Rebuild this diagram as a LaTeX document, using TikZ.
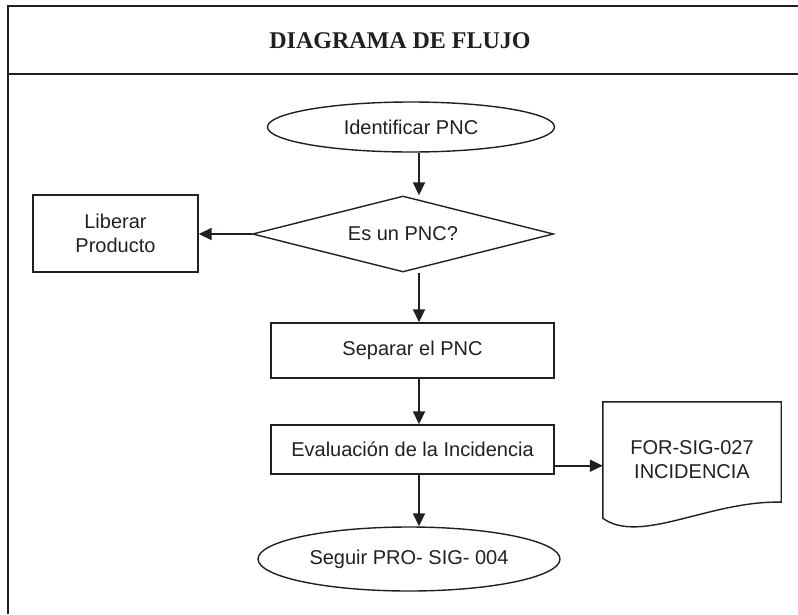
\documentclass[tikz,border=0pt]{standalone}
\usepackage{fontspec}
\setmainfont{Liberation Sans}
\newfontfamily\titlefont{Liberation Serif}
\usetikzlibrary{positioning,arrows.meta,calc,shapes.geometric}
\definecolor{linea}{HTML}{231F20}
\tikzset{
  caja/.style={draw=linea, line width=1.4pt, rectangle, align=center, text=linea, inner sep=2pt, font=\fontsize{20}{24}\selectfont},
  ovalo/.style={caja, ellipse},
  rombo/.style={caja, diamond, aspect=3.96, inner sep=0pt},
  flecha/.style={draw=linea, line width=1.8pt, -{Triangle[length=13pt,width=12pt]}}
}

\begin{document}
\begin{tikzpicture}[x=1pt,y=-1pt]
\useasboundingbox (0,0) rectangle (798,614);
\draw[linea, line width=2.6pt] (8,614) -- (8,6) -- (798,6);
\draw[linea, line width=2.6pt] (8,74) -- (798,74);
\node[text=linea, font=\titlefont\bfseries\fontsize{24}{28}\selectfont] (titulo) at (400,41) {DIAGRAMA DE FLUJO};

\node[ovalo, minimum width=287pt, minimum height=50pt] (ident) at (411,127) {Identificar PNC};
\node[rombo, minimum width=301pt, minimum height=76pt] (pnc) at (403,234) {Es un PNC?};
\node[caja, minimum width=165pt, minimum height=77pt] (liberar) at (115.5,233.5) {Liberar\\Producto};
\node[caja, minimum width=283pt, minimum height=55pt] (separar) at (412.5,350.5) {Separar el PNC};
\node[caja, minimum width=283pt, minimum height=49pt] (evaluar) at (412.5,449.5) {Evaluaci\'on de la Incidencia};
\node[ovalo, minimum width=302pt, minimum height=64pt] (seguir) at (409,559) {Seguir PRO- SIG- 004};
\node[rectangle, align=center, text=linea, font=\fontsize{20}{24}\selectfont, minimum width=178pt, minimum height=116pt] (formato) at (692,460) {FOR-SIG-027\\INCIDENCIA};
\draw[linea, line width=1.4pt] (formato.south west) -- (formato.north west) -- (formato.north east) -- ($(formato.south east)+(0,-16)$)
  .. controls ($(formato.south east)+(-71,-18)$) and ($(formato.south west)+(37,27)$) .. (formato.south west) -- cycle;

\coordinate (eje) at (419,0);
\coordinate (salida) at ($(evaluar.south east)+(0,-9)$);
\draw[flecha] (ident.south -| eje) -- (pnc.north -| eje);
\draw[flecha] (pnc.west) -- (pnc.west -| liberar.east);
\draw[flecha] (pnc.south -| eje) -- (separar.north -| eje);
\draw[flecha] (separar.south -| eje) -- (evaluar.north -| eje);
\draw[flecha] (salida) -- (salida -| formato.west);
\draw[flecha] (evaluar.south -| eje) -- (seguir.north -| eje);
\end{tikzpicture}
\end{document}
